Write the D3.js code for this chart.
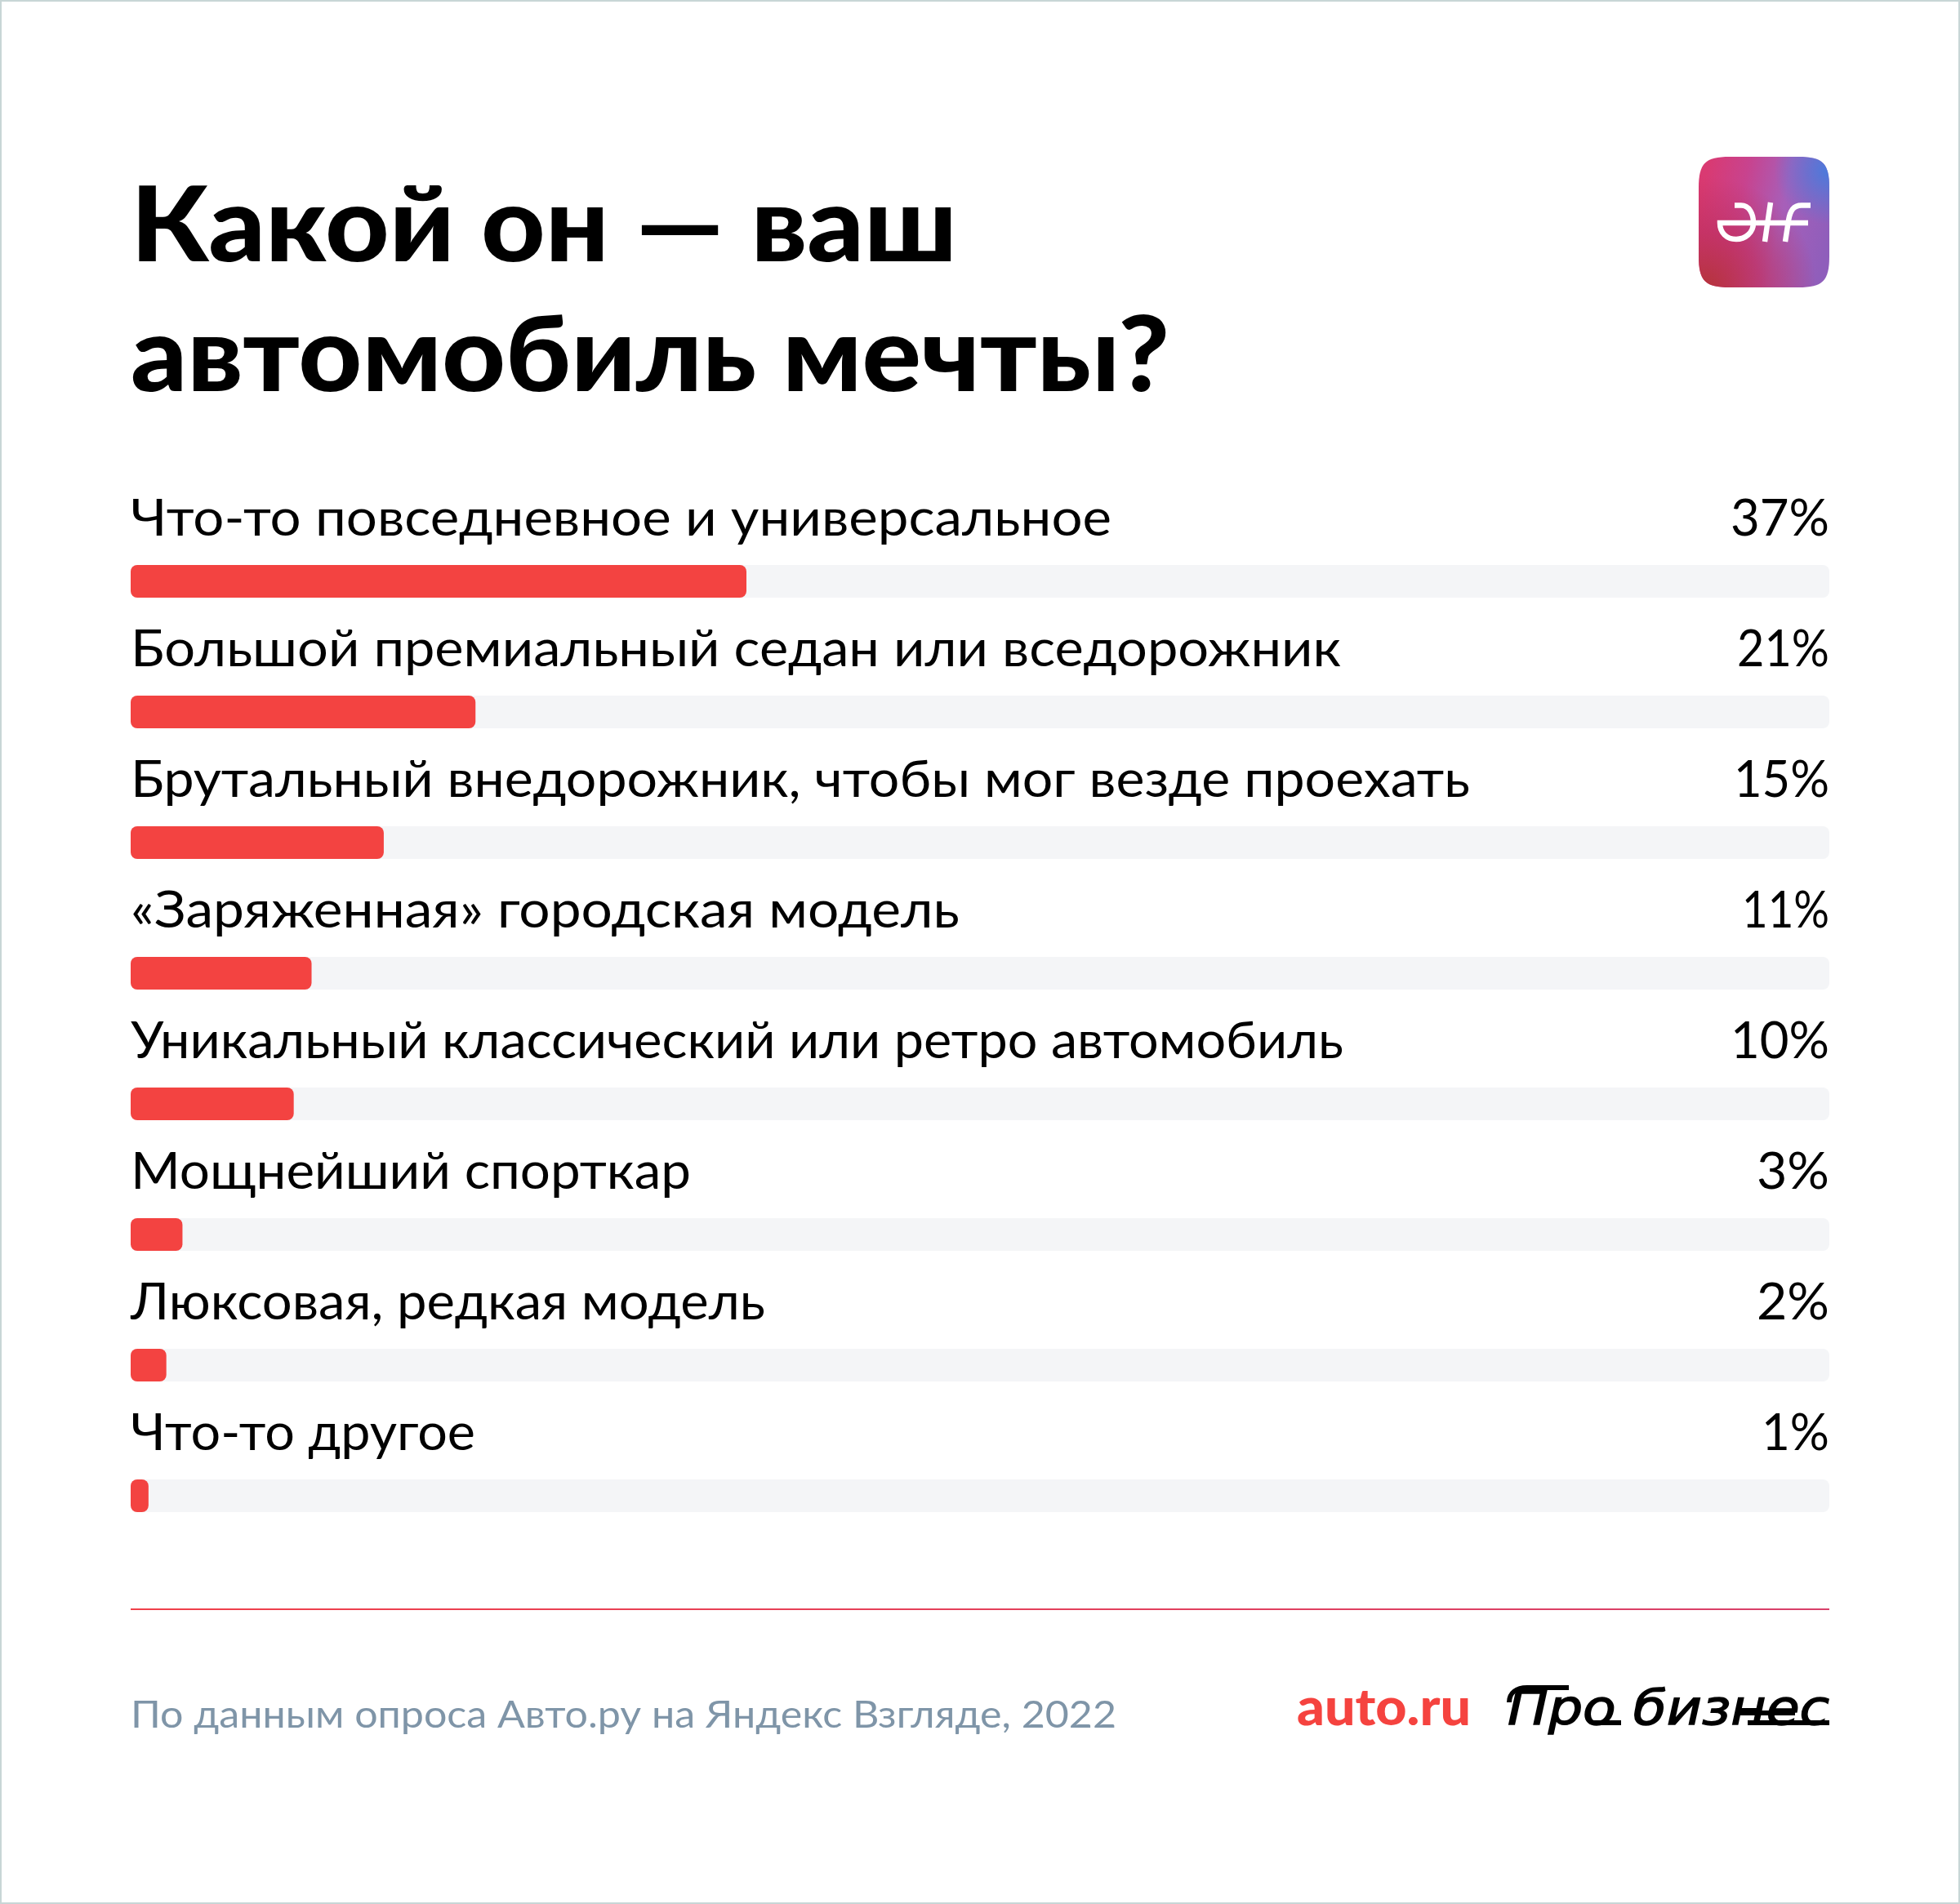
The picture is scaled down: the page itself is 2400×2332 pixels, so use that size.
<!DOCTYPE html>
<html><head><meta charset="utf-8">
<script src="https://cdn.jsdelivr.net/npm/d3@7/dist/d3.min.js"></script>
<style>html,body{margin:0;padding:0;background:#fff}svg{display:block}</style>
</head><body><div id="chart"></div>
<script>
const titleLines = ["Какой он — ваш", "автомобиль мечты?"];
const categories = ["Что-то повседневное и универсальное","Большой премиальный седан или вседорожник","Брутальный внедорожник, чтобы мог везде проехать","«Заряженная» городская модель","Уникальный классический или ретро автомобиль","Мощнейший спорткар","Люксовая, редкая модель","Что-то другое"];
const valueLabels = ["37%","21%","15%","11%","10%","3%","2%","1%"];
const barValues = [36.25,20.3,14.9,10.65,9.6,3.05,2.1,1.05];
const sourceText = "По данным опроса Авто.ру на Яндекс Взгляде, 2022";

const W=2400,H=2332;
const svg=d3.select("#chart").append("svg").attr("width",W).attr("height",H).attr("viewBox",`0 0 ${W} ${H}`);
const defs=svg.append("defs");
const FONT="Lato, 'Noto Sans', sans-serif";
const fitTitle=[1012,1272], fitLabel=[1201,1482,1640,1015,1485,686,777,422], fitValue=[121,113,117,107,121,89,89,83];

svg.append("rect").attr("x",1).attr("y",1).attr("width",W-2).attr("height",H-2).attr("fill","#fff").attr("stroke","#c8d6d6").attr("stroke-width",2);

svg.append("g").selectAll("text").data(titleLines).join("text")
 .attr("x",160).attr("y",(d,i)=>320+i*159)
 .attr("font-family",FONT).attr("font-weight",900).attr("font-size",128).attr("fill","#000")
 .attr("textLength",(d,i)=>fitTitle[i]).attr("lengthAdjust","spacingAndGlyphs").text(d=>d);

const x=d3.scaleLinear().domain([0,100]).range([160,2240]);
const y=d3.scaleBand().domain(categories).range([692,692+160*8]);
const barH=40;
const rows=svg.append("g").selectAll("g").data(categories).join("g").attr("transform",d=>`translate(0,${y(d)})`);
rows.append("rect").attr("x",x(0)).attr("width",x(100)-x(0)).attr("height",barH).attr("rx",8).attr("fill","#f4f5f7");
rows.append("rect").attr("x",x(0)).attr("width",(d,i)=>x(barValues[i])-x(0)).attr("height",barH).attr("rx",8).attr("fill","#f34341");
rows.append("text").attr("x",x(0)).attr("y",-36).attr("font-family",FONT).attr("font-size",62).attr("fill","#000")
 .attr("textLength",(d,i)=>fitLabel[i]).attr("lengthAdjust","spacingAndGlyphs").text(d=>d);
rows.append("text").attr("x",x(100)).attr("y",-36).attr("text-anchor","end").attr("font-family",FONT).attr("font-size",62).attr("fill","#000")
 .attr("textLength",(d,i)=>fitValue[i]).attr("lengthAdjust","spacingAndGlyphs").text((d,i)=>valueLabels[i]);

const lg=defs.append("linearGradient").attr("id","rule");
lg.append("stop").attr("offset","0").attr("stop-color","#f0404a");
lg.append("stop").attr("offset","1").attr("stop-color","#d8406a");
svg.append("rect").attr("x",160).attr("y",1970).attr("width",2080).attr("height",2).attr("fill","url(#rule)");

svg.append("text").attr("x",160).attr("y",2116).attr("font-family",FONT).attr("font-size",47).attr("fill","#7f95a8")
 .attr("textLength",1207).attr("lengthAdjust","spacingAndGlyphs").text(sourceText);
svg.append("text").attr("x",1588).attr("y",2113).attr("font-family",FONT).attr("font-weight",900).attr("font-size",62).attr("fill","#f5433f")
 .attr("textLength",213).attr("lengthAdjust","spacingAndGlyphs").text("auto.ru");

// "Про бизнес" wordmark: real text plus the lettering's connecting strokes
svg.append("text").attr("x",1846).attr("y",2112).attr("font-family","'DejaVu Sans', sans-serif").attr("font-style","italic").attr("font-size",58)
 .attr("textLength",394).attr("lengthAdjust","spacingAndGlyphs").attr("fill","#000").attr("stroke","#000").attr("stroke-width",1.4).text("Про бизнес");
const wm=svg.append("g").attr("fill","none").attr("stroke","#000").attr("stroke-width",6);
wm.append("path").attr("d","M1848,2085 C1848,2073 1857,2067 1870,2067 H1921");
wm.append("path").attr("d","M1950,2110 H1985");
wm.append("path").attr("d","M2128,2098 H2198");
wm.append("path").attr("d","M2140,2110 H2240");

// app icon
const ix=2080,iy=192,s=160;
const g1=defs.append("linearGradient").attr("id","ib").attr("x1","0").attr("y1","0.4").attr("x2","1").attr("y2","0.6");
[[0,"#d93a72"],[0.3,"#c8438e"],[0.62,"#a75fb9"],[1,"#8f5ebb"]].forEach(([o,c])=>g1.append("stop").attr("offset",o).attr("stop-color",c));
const rb=defs.append("radialGradient").attr("id","iblue").attr("cx","1").attr("cy","0.1").attr("r","0.42");
rb.append("stop").attr("offset","0").attr("stop-color","#4a7bdc").attr("stop-opacity",1);
rb.append("stop").attr("offset","1").attr("stop-color","#4a7bdc").attr("stop-opacity",0);
const rr=defs.append("radialGradient").attr("id","ired").attr("cx","0.05").attr("cy","1").attr("r","0.85");
rr.append("stop").attr("offset","0").attr("stop-color","#b5343a").attr("stop-opacity",1);
rr.append("stop").attr("offset","0.5").attr("stop-color","#bf2f5e").attr("stop-opacity",0.7);
rr.append("stop").attr("offset","1").attr("stop-color","#bf2f5e").attr("stop-opacity",0);
const icon=svg.append("g").attr("transform",`translate(${ix},${iy})`);
const r=s, k=38;
const squircle=`M${k},0 H${r-k} C${r-8},0 ${r},8 ${r},${k} V${r-k} C${r},${r-8} ${r-8},${r} ${r-k},${r} H${k} C8,${r} 0,${r-8} 0,${r-k} V${k} C0,8 8,0 ${k},0 Z`;
["ib","ired","iblue"].forEach(id=>icon.append("path").attr("d",squircle).attr("fill",`url(#${id})`));
const mark=svg.append("g").attr("fill","none").attr("stroke","#fff").attr("stroke-width",6.5);
mark.append("path").attr("d","M2124,251.5 H2132 C2142,251.5 2147,262 2147,273 C2147,285 2137,293 2126,293 C2114,293 2106,285 2106,273 H2214");
mark.append("path").attr("d","M2168,248 L2161,296");
mark.append("path").attr("d","M2217,251.5 H2206 C2196,251.5 2192,258 2190,270 L2186,296");
</script></body></html>
